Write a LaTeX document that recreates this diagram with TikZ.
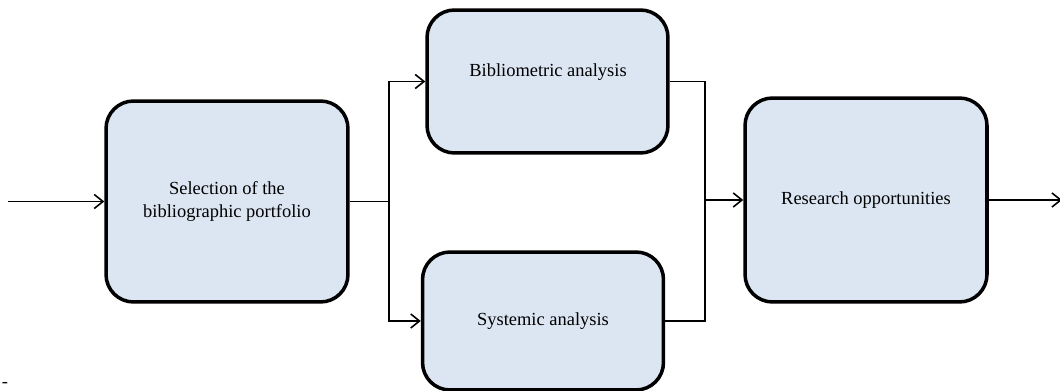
\documentclass[tikz,border=0pt]{standalone}
\usepackage{fontspec}
\setmainfont{Liberation Serif}
\usetikzlibrary{positioning}
\usetikzlibrary{calc}
\usetikzlibrary{arrows.meta}
\definecolor{boxblue}{RGB}{220,230,242}

\begin{document}
\begin{tikzpicture} [x=0.02cm, y=-0.02cm]
    % styles for the stage boxes and the flow lines
    \tikzstyle{stage} = [draw=black, line width=2pt, fill=boxblue, rounded corners=0.55cm, align=center, font=\fontsize{10.5}{13}\selectfont]
    \tikzstyle{stagetext} = [font=\fontsize{10.5}{13}\selectfont]
    \tikzstyle{line} = [draw=black, line width=0.9pt]
    \tikzstyle{flow} = [line, -{Straight Barb[length=5pt, width=8pt]}]

    \useasboundingbox (0,0) rectangle (1060,391);

    % the four stages
    \node (select) [stage, minimum width=4.84cm, minimum height=4.02cm] at (227,201.5) {Selection of the\\bibliographic portfolio};
    \node (biblio) [stage, minimum width=4.82cm, minimum height=2.86cm] at (547.5,81.5) {};
    \node (biblio_txt) [stagetext] at (548,72) {Bibliometric analysis};
    \node (systemic) [stage, minimum width=4.82cm, minimum height=2.76cm] at (543,321) {Systemic analysis};
    \node (research) [stage, minimum width=4.84cm, minimum height=4.08cm] at (866,200) {Research opportunities};

    % in and out
    \coordinate (in) at (8,201.5);
    \coordinate (out) at (1062,200);
    \draw [flow] (in) -- (select.west);
    \draw [flow] (research.east) -- (out);

    % split into the two analyses
    \coordinate (fork) at ($(select.east)+(39,0)$);
    \draw [line] (select.east) -- (fork);
    \draw [flow] (fork) |- (biblio.west);
    \draw [flow] (fork) |- (systemic.west);

    % join again
    \coordinate (join) at ($(research.west)+(-38,0)$);
    \draw [line] (biblio.east) -| (join);
    \draw [line] (systemic.east) -| (join);
    \draw [flow] (join) -- (research.west);

    \node (mark) [stagetext, inner sep=0pt] at (5,385) {-};
\end{tikzpicture}
\end{document}
